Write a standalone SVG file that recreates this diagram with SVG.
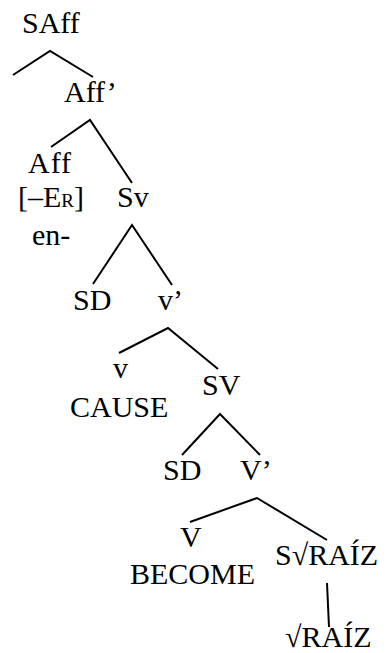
<svg xmlns="http://www.w3.org/2000/svg" width="386" height="653" viewBox="0 0 386 653">
<style>
text{font-family:"Liberation Serif","Times New Roman",serif;font-size:30px;fill:#000}
.e{stroke:#000;stroke-width:2;fill:none;stroke-linecap:butt;stroke-linejoin:miter}
</style>
<rect width="386" height="653" fill="#fff"/>
<g id="connectors">
<polyline class="e" points="13,75 50,51 93,77"/>
<polyline class="e" points="51,147 90,120 132,183"/>
<polyline class="e" points="93,284 132,225 172,285"/>
<polyline class="e" points="119,353 168,328 218,369"/>
<polyline class="e" points="182,455 220,414 260,455"/>
<polyline class="e" points="190,522 257,498 327,540"/>
<line class="e" x1="327" y1="583" x2="329" y2="627"/>
</g>
<g id="SAff"><text x="22" y="33">SAff</text></g>
<g id="AffBar"><text x="64" y="102">Aff’</text></g>
<g id="Aff"><text x="28" y="173" letter-spacing="1">Aff</text><text x="18" y="207">[–E<tspan font-size="19">R</tspan>]</text><text x="32" y="245">en-</text></g>
<g id="Sv"><text x="117" y="207">Sv</text></g>
<g id="SD1"><text x="73" y="310">SD</text></g>
<g id="vBar"><text x="158" y="310">v’</text></g>
<g id="v"><text x="113" y="378">v</text><text x="70" y="417">CAUSE</text></g>
<g id="SV"><text x="202" y="395">SV</text></g>
<g id="SD2"><text x="163" y="480">SD</text></g>
<g id="VBar"><text x="240" y="480">V’</text></g>
<g id="V"><text x="180" y="547">V</text><text x="130" y="584">BECOME</text></g>
<g id="SRaiz"><text x="275" y="565">S√RAÍZ</text></g>
<g id="Raiz"><text x="285" y="647">√RAÍZ</text></g>
</svg>
